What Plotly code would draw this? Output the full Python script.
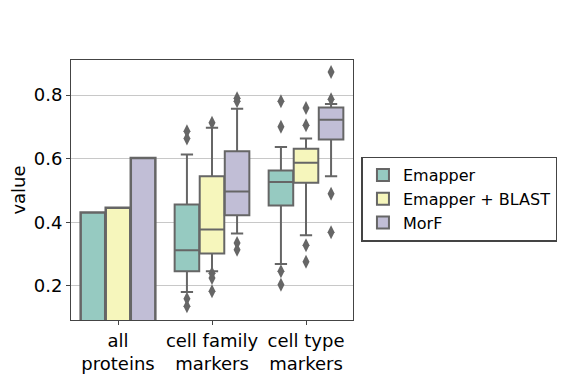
import plotly.graph_objects as go

categories = ["all<br>proteins", "cell family<br>markers", "cell type<br>markers"]
methods = ["Emapper", "Emapper + BLAST", "MorF"]
colors = ["#96cac1", "#f6f6bc", "#c1bed6"]

# "all proteins" bar values per method
all_proteins = [0.431, 0.446, 0.602]

# box statistics per method for [cell family markers, cell type markers]
q1 = {
    "Emapper": [0.246, 0.453],
    "Emapper + BLAST": [0.302, 0.524],
    "MorF": [0.422, 0.660],
}
median = {
    "Emapper": [0.312, 0.527],
    "Emapper + BLAST": [0.377, 0.587],
    "MorF": [0.497, 0.722],
}
q3 = {
    "Emapper": [0.456, 0.563],
    "Emapper + BLAST": [0.545, 0.631],
    "MorF": [0.623, 0.761],
}
lowerfence = {
    "Emapper": [0.181, 0.269],
    "Emapper + BLAST": [0.246, 0.359],
    "MorF": [0.365, 0.545],
}
upperfence = {
    "Emapper": [0.613, 0.637],
    "Emapper + BLAST": [0.697, 0.663],
    "MorF": [0.757, 0.772],
}
outliers = {
    "Emapper": [[0.686, 0.663, 0.160, 0.136], [0.780, 0.700, 0.246, 0.204]],
    "Emapper + BLAST": [[0.713, 0.240, 0.225, 0.183], [0.759, 0.705, 0.328, 0.276]],
    "MorF": [[0.790, 0.780, 0.335, 0.314], [0.872, 0.787, 0.490, 0.369]],
}

edge = "#666666"
hue_width = 0.8 / len(methods)
offsets = [(i - (len(methods) - 1) / 2) * hue_width for i in range(len(methods))]

fig = go.Figure()

for i, m in enumerate(methods):
    fig.add_trace(go.Bar(
        x=[0 + offsets[i]], y=[all_proteins[i]], width=hue_width * 0.98,
        name=m, marker=dict(color=colors[i], line=dict(color=edge, width=2.5)),
        showlegend=True,
    ))

for i, m in enumerate(methods):
    xs = [1 + offsets[i], 2 + offsets[i]]
    fig.add_trace(go.Box(
        x=xs, q1=q1[m], median=median[m], q3=q3[m],
        lowerfence=lowerfence[m], upperfence=upperfence[m],
        width=hue_width * 0.98, whiskerwidth=0.5,
        fillcolor=colors[i], line=dict(color=edge, width=2),
        boxpoints=False, showlegend=False, name=m,
    ))
    ox, oy = [], []
    for k, vals in enumerate(outliers[m]):
        for v in vals:
            ox.append(xs[k])
            oy.append(v)
    fig.add_trace(go.Scatter(
        x=ox, y=oy, mode="markers", showlegend=False, hoverinfo="skip",
        marker=dict(symbol="diamond-tall", size=10, color=edge, line=dict(width=0)),
    ))

font = "DejaVu Sans, Verdana, sans-serif"
fig.update_layout(
    width=573, height=383,
    margin=dict(l=63, r=228, t=52, b=71, autoexpand=False),
    paper_bgcolor="white", plot_bgcolor="white",
    barmode="overlay", boxmode="overlay",
    font=dict(family=font, size=18, color="black"),
    legend=dict(
        x=1.03, y=0.465, xanchor="left", yanchor="middle",
        bordercolor="#444444", borderwidth=1.5,
        font=dict(size=16), tracegroupgap=0, itemsizing="constant",
        itemwidth=30,
    ),
)
fig.update_xaxes(
    range=[-0.5, 2.5], tickvals=[0, 1, 2], ticktext=categories,
    showline=True, linecolor="#444444", linewidth=1, mirror=True,
    ticks="outside", ticklen=4, tickcolor="#444444", showgrid=False,
    zeroline=False, automargin=False, tickfont=dict(size=18),
)
fig.update_yaxes(
    range=[0.093, 0.91], tickvals=[0.2, 0.4, 0.6, 0.8],
    ticktext=["0.2", "0.4", "0.6", "0.8"],
    showline=True, linecolor="#444444", linewidth=1, mirror=True,
    ticks="outside", ticklen=4, tickcolor="#444444",
    showgrid=True, gridcolor="#c8c8c8", gridwidth=1, zeroline=False,
    automargin=False, tickfont=dict(size=18),
    title=dict(text="value", standoff=6, font=dict(size=18)),
)

fig.write_html("out.html")
